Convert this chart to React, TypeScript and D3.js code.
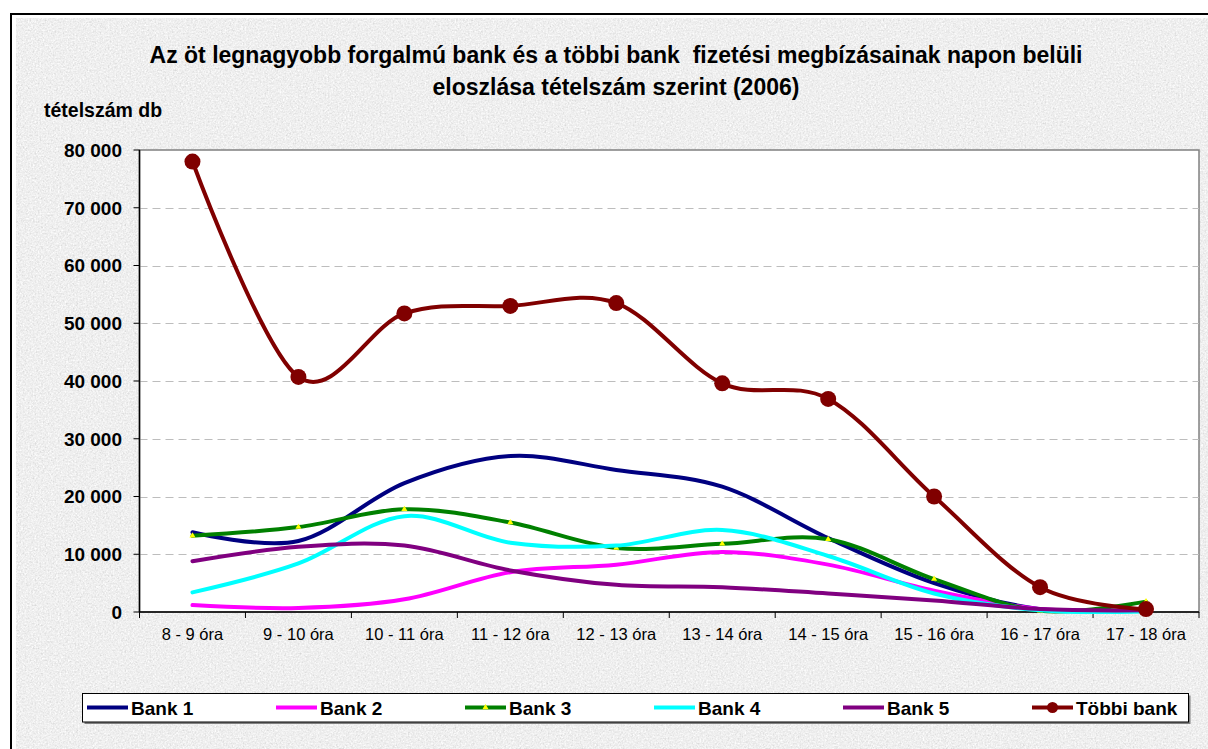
import React from "react";
import * as d3 from "d3";

const categories = [
  "8 - 9 óra",
  "9 - 10 óra",
  "10 - 11 óra",
  "11 - 12 óra",
  "12 - 13 óra",
  "13 - 14 óra",
  "14 - 15 óra",
  "15 - 16 óra",
  "16 - 17 óra",
  "17 - 18 óra",
];

const bank1 = [13800, 12300, 22300, 27000, 24600, 21700, 12800, 5000, 500, 300];
const bank2 = [1200, 700, 2200, 6900, 8200, 10400, 8200, 3700, 500, 300];
const bank3 = [13200, 14700, 17800, 15500, 11100, 11800, 12600, 5700, 200, 1800];
const bank4 = [3400, 8400, 16600, 12000, 11500, 14200, 9700, 3200, 300, 100];
const bank5 = [8800, 11300, 11500, 7200, 4700, 4300, 3200, 2000, 500, 300];
const tobbiBank = [78000, 40700, 51700, 53000, 53500, 39600, 36900, 20000, 4300, 500];

const seriesNames = ["Bank 1", "Bank 2", "Bank 3", "Bank 4", "Bank 5", "Többi bank"];
const seriesColors = ["#000080", "#FF00FF", "#008000", "#00FFFF", "#800080", "#800000"];

const yTicks = [0, 10000, 20000, 30000, 40000, 50000, 60000, 70000, 80000];

const titleLines = [
  "Az öt legnagyobb forgalmú bank és a többi bank  fizetési megbízásainak napon belüli",
  "eloszlása tételszám szerint (2006)",
];
const yAxisTitle = "tételszám db";

const FONT = "Arial, 'Liberation Sans', sans-serif";

export default function App() {
  const series = [bank1, bank2, bank3, bank4, bank5, tobbiBank];
  const plotL = 139.5,
    plotR = 1199,
    plotT = 150,
    plotB = 612;
  const x = d3.scaleBand<string>().domain(categories).range([plotL, plotR]);
  const y = d3.scaleLinear().domain([0, 80000]).range([plotB, plotT]);
  const cx = (i: number) => (x(categories[i]) as number) + x.bandwidth() / 2;
  const line = d3
    .line<number>()
    .x((_, i) => cx(i))
    .y((d) => y(d))
    .curve(d3.curveCardinal.tension(0));
  const fmt = d3
    .formatLocale({ thousands: " ", grouping: [3], decimal: ",", currency: ["", ""] })
    .format(",");
  const tri = d3.symbol().type(d3.symbolTriangle).size(16)() as string;
  const boundaries = categories.map((c) => x(c) as number).concat([plotR]);

  const legendStarts = [87, 276, 465, 654, 843, 1032];

  return (
    <svg
      width={1208}
      height={749}
      style={{ position: "absolute", left: 0, top: 0, display: "block" }}
      fontFamily={FONT}
    >
      <defs>
        <filter id="granite" x="0" y="0" width="100%" height="100%">
          <feTurbulence type="fractalNoise" baseFrequency="0.6" numOctaves="3" seed="7" result="n" />
          <feColorMatrix
            in="n"
            type="matrix"
            values="0.22 0.22 0.22 0 0.53  0.22 0.22 0.22 0 0.53  0.22 0.22 0.22 0 0.53  0 0 0 0 1"
          />
        </filter>
      </defs>
      <rect x={0} y={0} width={1208} height={749} fill="#ffffff" />
      <rect x={11} y={14} width={1300} height={800} fill="#ffffff" stroke="#000" strokeWidth={2} />
      <rect x={16} y={18} width={1300} height={800} fill="#d8d8d8" />
      <rect x={16} y={18} width={1300} height={800} filter="url(#granite)" />

      {/* title */}
      <text textAnchor="middle" fontWeight="bold" fontSize={23} fill="#000">
        <tspan x={616} y={63} style={{ whiteSpace: "pre" }}>{titleLines[0]}</tspan>
        <tspan x={616} y={95}>{titleLines[1]}</tspan>
      </text>
      <text x={44} y={117} fontWeight="bold" fontSize={19.5} fill="#000">
        {yAxisTitle}
      </text>

      {/* plot area */}
      <rect x={plotL} y={plotT} width={plotR - plotL} height={plotB - plotT} fill="#fff" stroke="#808080" strokeWidth={1.5} />
      {yTicks
        .filter((t) => t > 0 && t < 80000)
        .map((t) => (
          <line
            key={"g" + t}
            x1={plotL}
            x2={plotR}
            y1={Math.round(y(t)) + 0.5}
            y2={Math.round(y(t)) + 0.5}
            stroke="#bdbdbd"
            strokeWidth={1}
            strokeDasharray="8,5"
          />
        ))}

      {/* axes */}
      <line x1={plotL} x2={plotL} y1={plotT} y2={plotB} stroke="#000" strokeWidth={1.5} />
      <line x1={plotL} x2={plotR} y1={plotB} y2={plotB} stroke="#000" strokeWidth={1.5} />
      {yTicks.map((t) => (
        <g key={"yt" + t}>
          <line x1={plotL - 6} x2={plotL} y1={y(t)} y2={y(t)} stroke="#000" strokeWidth={1} />
          <text x={122} y={y(t)} dy="0.36em" textAnchor="end" fontWeight="bold" fontSize={19} fill="#000">
            {fmt(t)}
          </text>
        </g>
      ))}
      {boundaries.map((b, i) => (
        <line key={"xt" + i} x1={b} x2={b} y1={plotB} y2={plotB + 6} stroke="#000" strokeWidth={1} />
      ))}
      {categories.map((c, i) => (
        <text key={"xl" + i} x={cx(i)} y={639.5} textAnchor="middle" fontSize={16.5} fill="#000">
          {c}
        </text>
      ))}

      {/* series */}
      {series.map((s, si) => (
        <g key={"s" + si}>
          <path d={line(s) as string} fill="none" stroke={seriesColors[si]} strokeWidth={4} strokeLinejoin="round" strokeLinecap="round" />
          {si === 2 &&
            s.map((v, i) => (
              <path key={"m" + i} d={tri} transform={`translate(${cx(i)},${y(v)})`} fill="#ffff00" />
            ))}
          {si === 5 &&
            s.map((v, i) => <circle key={"m" + i} cx={cx(i)} cy={y(v)} r={8} fill="#800000" />)}
        </g>
      ))}

      {/* legend */}
      <rect x={84.5} y={695.5} width={1106} height={28.5} fill="#808080" />
      <rect x={82.5} y={693.5} width={1106} height={28.5} fill="#fff" stroke="#000" strokeWidth={1} />
      {seriesNames.map((n, i) => (
        <g key={"l" + i}>
          <line x1={legendStarts[i]} x2={legendStarts[i] + 41} y1={707.5} y2={707.5} stroke={seriesColors[i]} strokeWidth={4} />
          {i === 2 && <path d={tri} transform={`translate(${legendStarts[i] + 20.5},707.5)`} fill="#ffff00" />}
          {i === 5 && <circle cx={legendStarts[i] + 20.5} cy={707.5} r={5.5} fill="#800000" />}
          <text x={legendStarts[i] + 44} y={715} fontWeight="bold" fontSize={19} fill="#000">
            {n}
          </text>
        </g>
      ))}
    </svg>
  );
}
